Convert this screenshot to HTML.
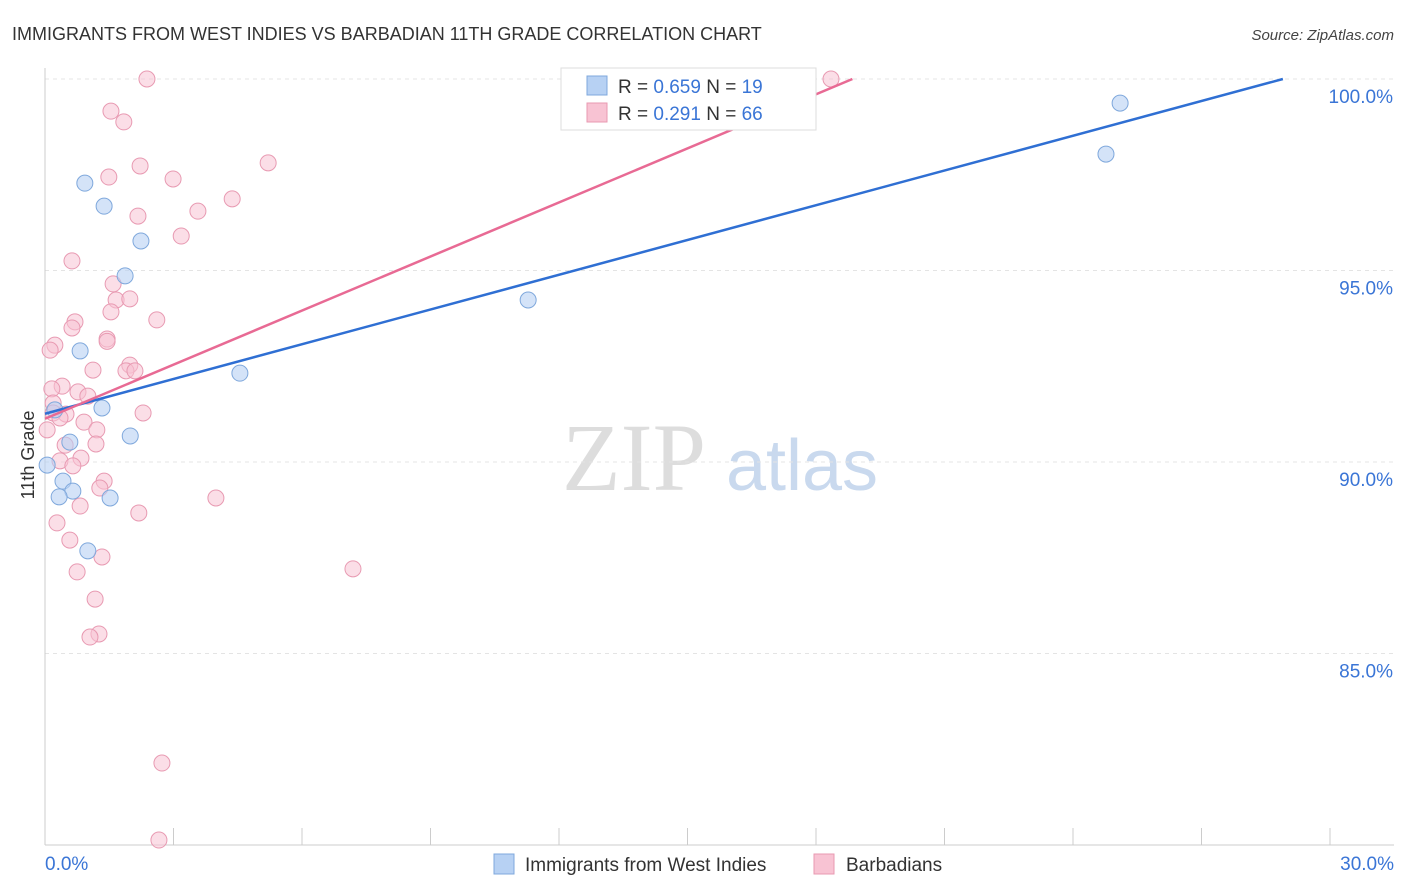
<!DOCTYPE html>
<html><head><meta charset="utf-8"><style>
body{margin:0;background:#fff;font-family:"Liberation Sans",sans-serif}
svg{display:block}
</style></head><body>
<svg id="chart" width="1406" height="892" xmlns="http://www.w3.org/2000/svg">
<text x="12" y="40" font-size="18" fill="#333">IMMIGRANTS FROM WEST INDIES VS BARBADIAN 11TH GRADE CORRELATION CHART</text>
<text x="1394" y="40" font-size="15" fill="#444" text-anchor="end" font-style="italic">Source: ZipAtlas.com</text>
<g>
<text x="634" y="490" font-size="96" fill="#ddd" text-anchor="middle" font-family="Liberation Serif,serif">ZIP</text>
<text x="802" y="490" font-size="72" fill="#c9d9ee" text-anchor="middle">atlas</text>
</g>
<g id="grid"></g>
<g id="axes"></g>
<text transform="translate(34,455) rotate(-90)" font-size="18" fill="#333" text-anchor="middle">11th Grade</text>
<g id="pts"></g>
<g id="lines"></g>
<g>
<rect x="561" y="68" width="255" height="62" fill="#fff" stroke="#ddd"/>
<rect x="587" y="76" width="20" height="19" fill="#b7d1f3" stroke="#7fa8dc"/>
<rect x="587" y="103" width="20" height="19" fill="#f8c3d3" stroke="#e89ab2"/>
<text x="618" y="93" font-size="19" fill="#333">R = <tspan fill="#3a75d6">0.659</tspan>   N = <tspan fill="#3a75d6">19</tspan></text>
<text x="618" y="120" font-size="19" fill="#333">R = <tspan fill="#3a75d6"> 0.291</tspan>   N = <tspan fill="#3a75d6">66</tspan></text>
</g>
<g>
<rect x="494" y="854" width="20" height="20" fill="#b7d1f3" stroke="#7fa8dc"/>
<text x="525" y="871" font-size="19" fill="#333">Immigrants from West Indies</text>
<rect x="814" y="854" width="20" height="20" fill="#f8c3d3" stroke="#e89ab2"/>
<text x="846" y="871" font-size="19" fill="#333">Barbadians</text>
</g>
</svg>
<script>
const yTicks=[100,95,90,85];
const xTickLabels=["0.0%","30.0%"];
const blueX=[0.93,1.38,2.24,1.87,0.82,1.33,1.99,0.58,4.55,11.28,25.10,24.77,0.42,0.65,0.33,1.52,1.00,0.23,0.05];
const blueY=[97.28,96.68,95.77,94.86,92.90,91.41,90.68,90.52,92.32,94.23,99.37,98.04,89.50,89.24,89.09,89.06,87.68,91.36,89.92];
const pinkX=[2.38,18.35,1.54,1.84,2.22,1.49,2.99,5.21,4.37,3.57,2.17,3.18,0.63,1.59,1.66,1.98,1.54,2.61,0.70,0.63,1.45,0.23,0.12,1.98,1.12,1.89,2.10,0.40,0.16,0.77,1.00,0.19,0.49,2.29,0.91,1.21,0.47,1.19,0.84,0.35,0.65,1.38,1.28,3.99,0.82,2.19,0.28,0.58,1.33,0.75,7.19,1.17,1.26,1.05,2.73,2.66,0.05,0.19,0.35,1.45];
const pinkY=[100,100,99.16,98.88,97.73,97.44,97.39,97.81,96.87,96.55,96.42,95.90,95.25,94.65,94.23,94.26,93.92,93.71,93.66,93.50,93.21,93.05,92.92,92.53,92.40,92.38,92.38,91.98,91.91,91.83,91.72,91.54,91.25,91.28,91.04,90.84,90.44,90.47,90.10,90.03,89.90,89.50,89.32,89.06,88.85,88.67,88.41,87.96,87.52,87.13,87.21,86.42,85.51,85.43,82.14,80.13,90.84,91.28,91.15,93.15];
const blueLine=[[0,91.26],[28.9,100]];
const pinkLine=[[0,91.13],[18.85,100]];
const NS="http://www.w3.org/2000/svg";
const xs=v=>45+v*(1285/30);
const ys=v=>79+(100-v)*38.3;
function mk(t,a,p){const e=document.createElementNS(NS,t);for(const k in a)e.setAttribute(k,a[k]);p.appendChild(e);return e;}
const grid=document.getElementById('grid'),axes=document.getElementById('axes');
yTicks.forEach(v=>{
 const l=mk('line',{x1:45,x2:1394,y1:ys(v),y2:ys(v),stroke:'#e4e4e4','stroke-dasharray':'4,4'},grid);
 
 
 const t=mk('text',{x:1393,y:ys(v)+24,'font-size':19,fill:'#3a75d6','text-anchor':'end'},axes);
 t.textContent=v.toFixed(1)+'%';
 
 
});
mk('line',{x1:45,x2:45,y1:68,y2:845,stroke:'#ccc'},axes);
mk('line',{x1:45,x2:1394,y1:845,y2:845,stroke:'#ccc'},axes);
for(let i=0;i<=10;i++){const l=mk('line',{x1:xs(i*3),x2:xs(i*3),y1:828,y2:845,stroke:'#ccc'},axes);
 
 }
const t0=mk('text',{x:45,y:870,'font-size':19,fill:'#3a75d6'},axes);t0.textContent=xTickLabels[0];


const t1=mk('text',{x:1394,y:870,'font-size':19,fill:'#3a75d6','text-anchor':'end'},axes);t1.textContent=xTickLabels[1];


const pts=document.getElementById('pts');


pinkX.forEach((x,i)=>{const c=mk('circle',{cx:xs(x),cy:ys(pinkY[i]),r:8,fill:'#f8c3d3','fill-opacity':0.55,stroke:'#e89ab2'},pts);
 
 });
blueX.forEach((x,i)=>{const c=mk('circle',{cx:xs(x),cy:ys(blueY[i]),r:8,fill:'#b7d1f3','fill-opacity':0.6,stroke:'#7fa8dc'},pts);
 
 });
const lines=document.getElementById('lines');
const bl=mk('line',{x1:xs(blueLine[0][0]),y1:ys(blueLine[0][1]),x2:xs(blueLine[1][0]),y2:ys(blueLine[1][1]),stroke:'#2f6fd3','stroke-width':2.5},lines);


const pl=mk('line',{x1:xs(pinkLine[0][0]),y1:ys(pinkLine[0][1]),x2:xs(pinkLine[1][0]),y2:ys(pinkLine[1][1]),stroke:'#e86a94','stroke-width':2.5},lines);


</script>
</body></html>
